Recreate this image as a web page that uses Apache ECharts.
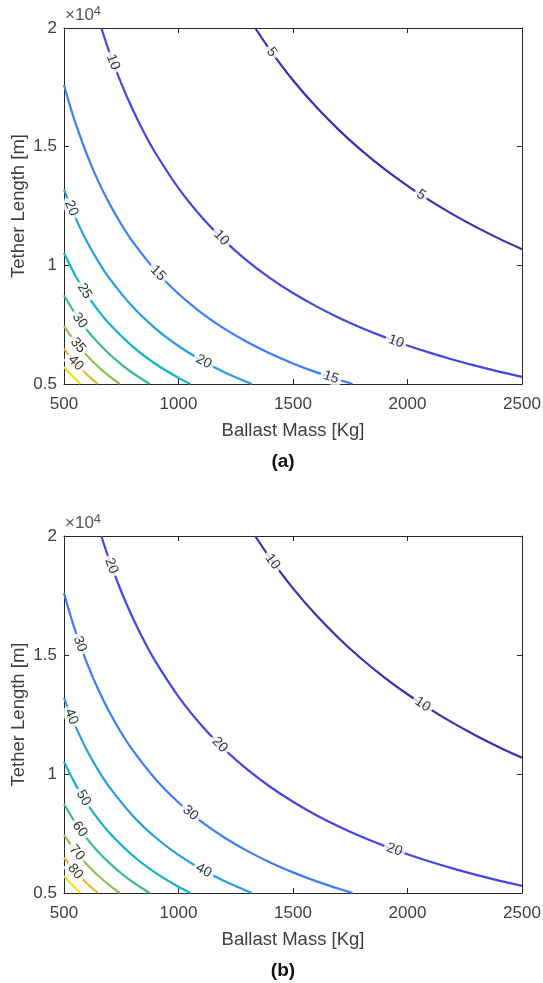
<!DOCTYPE html>
<html><head><meta charset="utf-8">
<script src="https://cdn.jsdelivr.net/npm/echarts@6/dist/echarts.min.js"></script>
<style>html,body{margin:0;padding:0;background:#fff}#c{width:543px;height:983px}</style>
</head><body><div id="c"></div>
<script>
// Contour levels of the two panels
const levelsA = [5, 10, 15, 20, 25, 30, 35, 40, 45];
const levelsB = [10, 20, 30, 40, 50, 60, 70, 80, 90];
const lineColors = ['#3f2db5', '#4346e2', '#3c7ef4', '#279ee2', '#13b2c6', '#3cbb98', '#8fc256', '#e8b53b', '#f7dc1e'];

// Contour paths: [Ballast Mass (kg), Tether Length (m)]
const contour1 = [[1335,20000],[1400,19071],[1500,17800],[1600,16688],[1700,15706],[1800,14833],[1900,14053],[2000,13350],[2100,12714],[2200,12136],[2300,11609],[2400,11125],[2500,10680]];
const contour2 = [[663,20000],[700,18929],[750,17667],[800,16563],[850,15588],[900,14722],[1000,13250],[1100,12045],[1200,11042],[1300,10192],[1400,9464],[1500,8833],[1600,8281],[1700,7794],[1800,7361],[1900,6974],[2000,6625],[2100,6310],[2200,6023],[2300,5761],[2400,5521],[2500,5300]];
const contour3 = [[500,17600],[525,16762],[550,16000],[600,14667],[650,13538],[700,12571],[750,11733],[800,11000],[900,9778],[1000,8800],[1100,8000],[1200,7333],[1300,6769],[1400,6286],[1500,5867],[1600,5500],[1700,5176],[1760,5000]];
const contour4 = [[500,13200],[525,12571],[550,12000],[600,11000],[650,10154],[700,9429],[800,8250],[900,7333],[1000,6600],[1100,6000],[1200,5500],[1320,5000]];
const contour5 = [[500,10520],[550,9564],[600,8767],[650,8092],[700,7514],[800,6575],[900,5844],[1000,5260],[1052,5000]];
const contour6 = [[500,8740],[550,7945],[600,7283],[650,6723],[700,6243],[750,5827],[800,5463],[874,5000]];
const contour7 = [[500,7440],[550,6764],[600,6200],[650,5723],[700,5314],[744,5000]];
const contour8 = [[500,6480],[550,5891],[600,5400],[648,5000]];
const contour9 = [[500,5720],[530,5396],[572,5000]];
const contours = [contour1, contour2, contour3, contour4, contour5, contour6, contour7, contour8, contour9];

// Inline contour labels: [mass, length, level]
const labelsA = [[1407,18980,5],[2059,12970,5],[714,18560,10],[1187,11160,10],[1950,6795,10],[910,9670,15],[1666,5282,15],[532,12406,20],[1110,5946,20],[590,8915,25],[569,7680,30],[561,6631,35],[551,5880,40]];
const labelsB = [[1411,18923,10],[2066,12924,10],[707,18741,20],[1180,11229,20],[1943,6819,20],[569,15466,30],[1052,8365,30],[532,12406,40],[1110,5946,40],[585,8991,50],[569,7680,60],[556,6691,70],[549,5902,80]];

const xTicks = {min: 500, max: 2500, interval: 500};
const yTicks = {min: 5000, max: 20000, interval: 5000};

const FONT = '"Liberation Sans", Arial, Helvetica, sans-serif';
const AX = '#262626';
const TXT = '#404040';

const chart = echarts.init(document.getElementById('c'), null, {renderer: 'canvas'});

const grids = [
  {left: 64, right: 21, top: 28, height: 356, containLabel: false, outerBoundsMode: 'none'},
  {left: 64, right: 21, top: 536, height: 357, containLabel: false, outerBoundsMode: 'none'}
];

function mkX(gi, pos) {
  const bottom = pos === 'bottom';
  return {
    type: 'value', gridIndex: gi, position: pos,
    min: xTicks.min, max: xTicks.max, interval: xTicks.interval,
    axisLine: {show: true, onZero: false, lineStyle: {color: AX, width: 1}},
    axisTick: {show: true, inside: true, length: 5, lineStyle: {color: AX}},
    axisLabel: {show: bottom, fontSize: 17, color: TXT, margin: 12, fontFamily: FONT,
      formatter: v => String(v)},
    splitLine: {show: false},
    name: bottom ? 'Ballast Mass [Kg]' : '',
    nameLocation: 'middle', nameGap: 37, nameMoveOverlap: false,
    nameTextStyle: {fontSize: 18.5, color: TXT, fontFamily: FONT}
  };
}
function mkY(gi, pos) {
  const left = pos === 'left';
  return {
    type: 'value', gridIndex: gi, position: pos,
    min: yTicks.min, max: yTicks.max, interval: yTicks.interval,
    axisLine: {show: true, onZero: false, lineStyle: {color: AX, width: 1}},
    axisTick: {show: true, inside: true, length: 5, lineStyle: {color: AX}},
    axisLabel: {show: left, fontSize: 17, color: TXT, margin: 7, fontFamily: FONT,
      formatter: v => String(v / 10000)},
    splitLine: {show: false},
    name: left ? 'Tether Length [m]' : '',
    nameLocation: 'middle', nameGap: 36, nameRotate: 90, nameMoveOverlap: false,
    nameTextStyle: {fontSize: 18.5, color: TXT, fontFamily: FONT}
  };
}

const xAxes = [mkX(0,'bottom'), mkX(0,'top'), mkX(1,'bottom'), mkX(1,'top')];
const yAxes = [mkY(0,'left'), mkY(0,'right'), mkY(1,'left'), mkY(1,'right')];

function lineSeries(gi) {
  return contours.map((c, k) => ({
    type: 'line', xAxisIndex: gi * 2, yAxisIndex: gi * 2,
    data: c, symbol: 'none', smooth: 0.3, silent: true, z: 2,
    lineStyle: {color: lineColors[k], width: 2.2}, animation: false
  }));
}

function labelSeries(gi, labels, levels, rotations) {
  return {
    type: 'scatter', xAxisIndex: gi * 2, yAxisIndex: gi * 2,
    symbolSize: 0, silent: true, z: 5, animation: false,
    data: labels.map((l, i) => ({
      name: String(l[2]), value: [l[0], l[1]],
      label: {rotate: rotations ? rotations[i] : 0}
    })),
    label: {show: true, position: 'inside', formatter: '{b}', fontSize: 14,
      color: '#000', fontFamily: FONT, backgroundColor: '#ffffff', padding: [0, 3]}
  };
}

function buildOption(rotA, rotB) {
  return {
    animation: false,
    backgroundColor: '#ffffff',
    grid: grids,
    xAxis: xAxes, yAxis: yAxes,
    series: [
      ...lineSeries(0), ...lineSeries(1),
      labelSeries(0, labelsA, levelsA, rotA),
      labelSeries(1, labelsB, levelsB, rotB)
    ]
  };
}

chart.setOption(buildOption(null, null));

function rotationsFor(gi, labels, levels) {
  return labels.map(l => {
    const k = levels.indexOf(l[2]);
    const pts = contours[k].map(p => chart.convertToPixel({gridIndex: gi}, p));
    const p = chart.convertToPixel({gridIndex: gi}, [l[0], l[1]]);
    let best = Infinity, ang = 0;
    for (let i = 0; i < pts.length - 1; i++) {
      const a = pts[i], b = pts[i + 1];
      const dx = b[0] - a[0], dy = b[1] - a[1];
      const len2 = dx * dx + dy * dy;
      let t = ((p[0] - a[0]) * dx + (p[1] - a[1]) * dy) / len2;
      t = Math.max(0, Math.min(1, t));
      const qx = a[0] + t * dx - p[0], qy = a[1] + t * dy - p[1];
      const d = qx * qx + qy * qy;
      if (d < best) { best = d; ang = Math.atan2(dy, dx) * 180 / Math.PI; }
    }
    if (ang > 90) ang -= 180;
    if (ang < -90) ang += 180;
    return -ang;
  });
}

const rotA = rotationsFor(0, labelsA, levelsA);
const rotB = rotationsFor(1, labelsB, levelsB);

const tlA = chart.convertToPixel({gridIndex: 0}, [xTicks.min, yTicks.max]);
const tlB = chart.convertToPixel({gridIndex: 1}, [xTicks.min, yTicks.max]);
const blA = chart.convertToPixel({gridIndex: 0}, [xTicks.min, yTicks.min]);
const blB = chart.convertToPixel({gridIndex: 1}, [xTicks.min, yTicks.min]);

const expRich = {
  b: {fontSize: 17, fill: '#555', fontFamily: FONT},
  s: {fontSize: 13, fill: '#555', fontFamily: FONT, verticalAlign: 'bottom', padding: [0, 0, 8, 0]}
};

const opt = buildOption(rotA, rotB);
opt.graphic = [
  {type: 'text', x: tlA[0] + 1, y: tlA[1] - 2, style: {text: '{b|×10}{s|4}', rich: expRich, verticalAlign: 'bottom', align: 'left'}},
  {type: 'text', x: tlB[0] + 1, y: tlB[1] - 2, style: {text: '{b|×10}{s|4}', rich: expRich, verticalAlign: 'bottom', align: 'left'}},
  {type: 'text', x: 283, y: blA[1] + 78, style: {text: '(a)', fontSize: 19, fontWeight: 'bold', fill: '#111', fontFamily: FONT, align: 'center', verticalAlign: 'middle'}},
  {type: 'text', x: 283, y: blB[1] + 78, style: {text: '(b)', fontSize: 19, fontWeight: 'bold', fill: '#111', fontFamily: FONT, align: 'center', verticalAlign: 'middle'}}
];
chart.setOption(opt, true);
</script>
</body></html>
